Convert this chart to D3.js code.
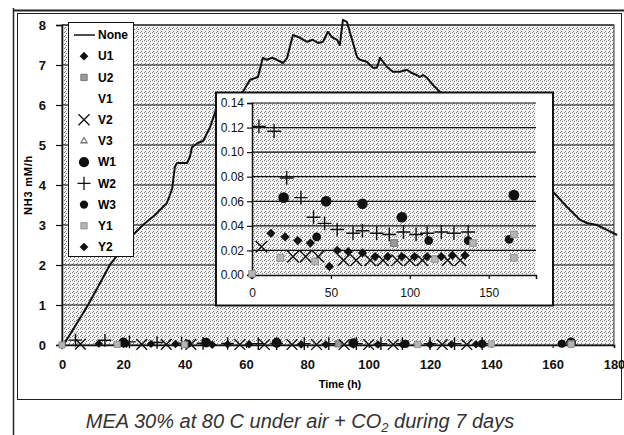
<!DOCTYPE html>
<html>
<head>
<meta charset="utf-8">
<script src="https://cdn.jsdelivr.net/npm/d3@7"></script>
<style>
  body { margin: 0; background: #fff; }
  svg { display: block; font-family: "Liberation Sans", Arial, sans-serif; }
</style>
</head>
<body>
<div id="chart"></div>
<script>
// Data: hours, NH3 emission (mM/h)
const noneHours = [0.5, 8.5, 15.6, 23.1, 26.4, 30.3, 34.2, 35.9, 36.8, 37.5, 40.8, 41.7, 42.4, 44.3, 46.0, 48.3, 50.5,
  59.0, 61.3, 63.9, 65.5, 66.8, 68.5, 70.1, 72.1, 73.4, 75.3, 77.6, 79.9, 81.8, 83.5, 85.1, 86.7, 88.0, 89.7, 90.6,
  91.6, 92.9, 94.6, 96.2, 97.2, 99.4, 101.4, 102.7, 103.7, 104.7, 106.0, 107.9, 110.2, 112.5, 114.1, 115.7, 116.7,
  117.7, 119.0, 121.0, 123.2, 160.1, 164.7, 168.9, 171.2, 174.4, 177.7, 181];
const noneValues = [0, 1.0, 2.0, 2.75, 3.0, 3.25, 3.55, 3.9, 4.45, 4.55, 4.55, 4.7, 4.95, 5.05, 5.1, 5.45, 5.95,
  6.33, 6.63, 6.7, 7.18, 7.13, 7.18, 7.13, 7.05, 7.18, 7.75, 7.68, 7.58, 7.63, 7.55, 7.58, 7.83, 7.7, 7.63, 7.5,
  8.13, 8.08, 7.63, 7.2, 7.13, 7.08, 6.93, 6.93, 7.18, 7.08, 6.95, 6.83, 6.83, 6.88, 6.8, 6.75, 6.7,
  6.75, 6.68, 6.5, 6.33, 3.83, 3.45, 3.13, 3.05, 3.0, 2.88, 2.75];

// scatter series [hour, value]
const U1 = [[0, 0], [12, 0.034], [21, 0.031], [29, 0.028], [37, 0.026]];
const U2 = [[90, 0.026]];
const V1 = [];
const V2 = [[6, 0.023], [26, 0.015], [34, 0.015], [42, 0.015], [58, 0.012], [66, 0.012], [75, 0.012], [83, 0.012],
  [92, 0.012], [100, 0.012], [108, 0.012], [124, 0.012], [132, 0.012]];
const V3 = [];
const W1 = [[20, 0.063], [47, 0.060], [70, 0.058], [95, 0.047], [166, 0.065]];
const W2 = [[4.4, 0.121], [14, 0.117], [22, 0.079], [31, 0.063], [39, 0.047], [46, 0.042], [54, 0.037], [64, 0.034],
  [70, 0.036], [79, 0.034], [87, 0.033], [96, 0.035], [104, 0.033], [111, 0.034], [120, 0.035], [128, 0.034], [137, 0.035]];
const W3 = [[41, 0.031], [112, 0.028], [137, 0.028], [163, 0.029]];
const Y1 = [[0, 0.001], [18, 0.014], [40, 0.011], [116, 0.013], [140, 0.026], [166, 0.033], [166, 0.014]];
const Y2 = [[49, 0.007], [54, 0.020], [61, 0.019], [70, 0.018], [78, 0.015], [86, 0.015], [95, 0.015], [103, 0.015],
  [111, 0.015], [120, 0.015], [127, 0.016], [135, 0.016]];

const seriesNames = ["None", "U1", "U2", "V1", "V2", "V3", "W1", "W2", "W3", "Y1", "Y2"];
const mainYTicks = [0, 1, 2, 3, 4, 5, 6, 7, 8];
const mainXTicks = [0, 20, 40, 60, 80, 100, 120, 140, 160, 180];
const insetYTicks = [0, 0.02, 0.04, 0.06, 0.08, 0.10, 0.12, 0.14];
const insetXTicks = [0, 50, 100, 150];

// how each series is drawn (diamonds = squares turned 45deg)
const markers = {
  U1: {type: d3.symbolSquare, size: 42, rot: 45, fill: "#111", stroke: "none"},
  U2: {type: d3.symbolSquare, size: 45, rot: 0, fill: "#9a9a9a", stroke: "#666"},
  V1: null,
  V2: {type: d3.symbolTimes, size: 90, rot: 0, fill: "none", stroke: "#111"},
  V3: {type: d3.symbolTriangle2, size: 30, rot: 0, fill: "none", stroke: "#777"},
  W1: {type: d3.symbolCircle, size: 90, rot: 0, fill: "#111", stroke: "none"},
  W2: {type: d3.symbolPlus, size: 64, rot: 0, fill: "none", stroke: "#111"},
  W3: {type: d3.symbolCircle, size: 60, rot: 0, fill: "#111", stroke: "none"},
  Y1: {type: d3.symbolSquare, size: 45, rot: 0, fill: "#b5b5b5", stroke: "#888"},
  Y2: {type: d3.symbolSquare, size: 42, rot: 45, fill: "#111", stroke: "none"},
};
const scatter = {U1, U2, V1, V2, V3, W1, W2, W3, Y1, Y2};

const width = 624, height = 435;

const svg = d3.select("#chart").append("svg")
    .attr("width", width)
    .attr("height", height)
    .attr("viewBox", [0, 0, width, height]);

// stippled grey like the scanned plot area
const defs = svg.append("defs");
const pat = defs.append("pattern")
    .attr("id", "stipple")
    .attr("width", 4).attr("height", 4)
    .attr("patternUnits", "userSpaceOnUse");
pat.append("rect").attr("width", 4).attr("height", 4).attr("fill", "#f2f2f2");
[[0, 0], [2, 1], [1, 3]].forEach(([px, py]) =>
  pat.append("rect").attr("x", px).attr("y", py).attr("width", 1).attr("height", 1).attr("fill", "#7a7a7a"));

// frames
svg.append("line").attr("x1", 13.5).attr("x2", 13.5).attr("y1", 8).attr("y2", height)
    .attr("stroke", "#222").attr("stroke-width", 1.5);
svg.append("line").attr("x1", 14).attr("x2", width).attr("y1", 10.5).attr("y2", 10.5)
    .attr("stroke", "#222").attr("stroke-width", 2);
svg.append("rect").attr("x", 17.5).attr("y", 13.5).attr("width", 604).attr("height", 386)
    .attr("fill", "none").attr("stroke", "#222").attr("stroke-width", 1);

// ---- main chart
const x = d3.scaleLinear([0, 180], [62, 614]);
const y = d3.scaleLinear([0, 8], [345, 25]);

svg.append("rect")
    .attr("x", x(0)).attr("y", y(8))
    .attr("width", x(180) - x(0)).attr("height", y(0) - y(8))
    .attr("fill", "url(#stipple)")
    .attr("stroke", "#333");

svg.append("g")
    .selectAll("line")
    .data(mainYTicks.slice(1))
    .join("line")
      .attr("x1", x(0)).attr("x2", x(180))
      .attr("y1", d => y(d)).attr("y2", d => y(d))
      .attr("stroke", "#111").attr("stroke-width", 1.2);

const yAxis = svg.append("g")
    .attr("transform", `translate(${x(0)},0)`)
    .call(d3.axisLeft(y).tickValues(mainYTicks).tickFormat(d3.format("d")).tickSize(6).tickPadding(10));
const xAxis = svg.append("g")
    .attr("transform", `translate(0,${y(0)})`)
    .call(d3.axisBottom(x).tickValues(mainXTicks).tickSize(3).tickPadding(12));
[yAxis, xAxis].forEach(g => {
  g.select(".domain").attr("stroke", "#111").attr("stroke-width", 1.5);
  g.selectAll(".tick line").attr("stroke", "#111").attr("stroke-width", 1.2);
  g.selectAll("text").attr("fill", "#111").attr("font-size", 13).attr("font-weight", "bold");
});

svg.append("text")
    .attr("transform", `translate(32,185) rotate(-90)`)
    .attr("text-anchor", "middle")
    .attr("font-size", 11).attr("font-weight", "bold")
    .attr("letter-spacing", 0.8)
    .text("NH3 mM/h");

svg.append("text")
    .attr("x", 340).attr("y", 388)
    .attr("text-anchor", "middle")
    .attr("font-size", 11).attr("font-weight", "bold")
    .text("Time (h)");

const line = d3.line().x(i => x(noneHours[i])).y(i => y(noneValues[i]));
svg.append("path")
    .attr("d", line(d3.range(noneHours.length)))
    .attr("fill", "none").attr("stroke", "#111").attr("stroke-width", 2).attr("stroke-linejoin", "round");

function drawMarkers(g, xs, ys, scale) {
  for (const name of Object.keys(scatter)) {
    const m = markers[name];
    if (!m) continue;
    g.append("g")
      .selectAll("path")
      .data(scatter[name])
      .join("path")
        .attr("transform", d => `translate(${xs(d[0])},${ys(d[1])}) rotate(${m.rot})`)
        .attr("d", d3.symbol(m.type, m.size * scale))
        .attr("fill", m.fill)
        .attr("stroke", m.stroke)
        .attr("stroke-width", m.fill === "none" ? 1.4 : 0.8);
  }
}
drawMarkers(svg, x, y, 0.85);

// legend
const legend = svg.append("g");
legend.append("rect")
    .attr("x", 68.5).attr("y", 22.5).attr("width", 65).attr("height", 234)
    .attr("fill", "#fff").attr("stroke", "#111");
const row = legend.selectAll("g")
    .data(seriesNames)
    .join("g")
      .attr("transform", (d, i) => `translate(0,${35 + i * 21.2})`);
row.append("text")
    .attr("x", 98).attr("dy", "0.35em")
    .attr("font-size", 12).attr("font-weight", "bold")
    .text(d => d);
row.filter(d => d === "None").append("line")
    .attr("x1", 74).attr("x2", 95)
    .attr("stroke", "#111").attr("stroke-width", 1.5);
row.filter(d => markers[d]).append("path")
    .attr("transform", d => `translate(84,0) rotate(${markers[d].rot})`)
    .attr("d", d => d3.symbol(markers[d].type, markers[d].size * 0.9)())
    .attr("fill", d => markers[d].fill)
    .attr("stroke", d => markers[d].stroke)
    .attr("stroke-width", d => markers[d].fill === "none" ? 1.3 : 0.8);

// ---- inset (zoom on the low values)
const inset = svg.append("g");
inset.append("rect")
    .attr("x", 216).attr("y", 92.5).attr("width", 337).attr("height", 213)
    .attr("fill", "#fff").attr("stroke", "#111").attr("stroke-width", 2);

const ix = d3.scaleLinear([0, 180], [252, 536]);
const iy = d3.scaleLinear([0, 0.14], [275, 103]);

inset.append("rect")
    .attr("x", ix(0)).attr("y", iy(0.14))
    .attr("width", ix(180) - ix(0)).attr("height", iy(0) - iy(0.14))
    .attr("fill", "url(#stipple)");

inset.append("g")
    .selectAll("line")
    .data(insetYTicks.slice(1))
    .join("line")
      .attr("x1", ix(0)).attr("x2", ix(180))
      .attr("y1", d => iy(d)).attr("y2", d => iy(d))
      .attr("stroke", "#111").attr("stroke-width", 1.2);

const iyAxis = inset.append("g")
    .attr("transform", `translate(${ix(0)},0)`)
    .call(d3.axisLeft(iy).tickValues(insetYTicks).tickFormat(d3.format(".2f")).tickSize(5).tickPadding(3));
const ixAxis = inset.append("g")
    .attr("transform", `translate(0,${iy(0)})`)
    .call(d3.axisBottom(ix).tickValues(insetXTicks).tickSize(4).tickPadding(9));
[iyAxis, ixAxis].forEach(g => {
  g.select(".domain").attr("stroke", "#111").attr("stroke-width", 1.5);
  g.selectAll(".tick line").attr("stroke", "#111").attr("stroke-width", 1.2);
  g.selectAll("text").attr("fill", "#111").attr("font-size", 12);
});

drawMarkers(inset, ix, iy, 1);

// caption
const cap = svg.append("text")
    .attr("x", 300).attr("y", 428)
    .attr("text-anchor", "middle")
    .attr("font-size", 20).attr("font-style", "italic")
    .attr("fill", "#333");
cap.append("tspan").text("MEA 30% at 80 C under air + CO");
cap.append("tspan").attr("font-size", 13).attr("dy", 4).text("2");
cap.append("tspan").attr("dy", -4).text(" during 7 days");
</script>
</body>
</html>
